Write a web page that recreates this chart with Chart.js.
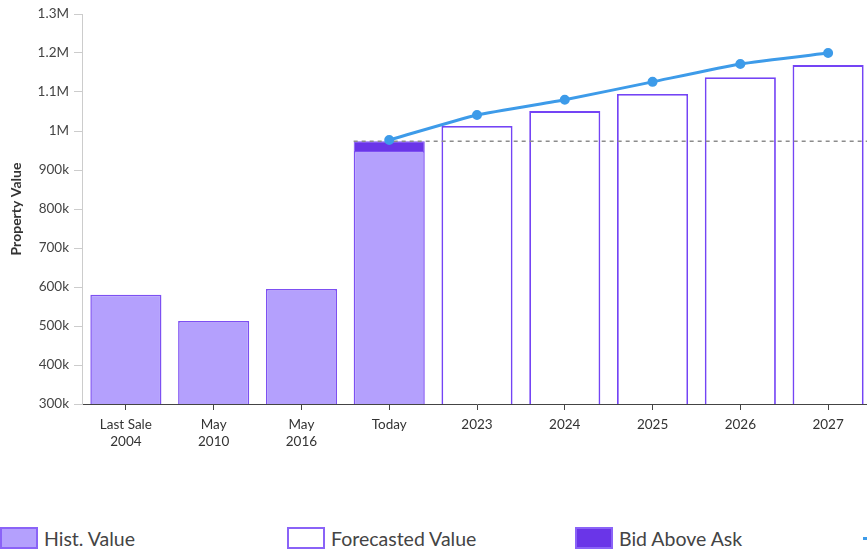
<!DOCTYPE html>
<html lang="en">
<head>
    <meta charset="UTF-8">
    <title>Property Value Forecast</title>
    <style>
        body {
            margin: 0;
            padding: 0;
            background: #fff;
            overflow: hidden;
            font-family: Lato, "Open Sans", sans-serif;
        }
        #valueChart {
            position: absolute;
            left: 0;
            top: 0;
        }
        .legend {
            position: absolute;
            top: 527px;
            left: 0;
            width: 1200px;
            height: 24px;
        }
        .legend-item {
            position: absolute;
            top: 0;
            display: flex;
            align-items: center;
            height: 22px;
            font-size: 19.5px;
            color: #444;
            white-space: nowrap;
        }
        .swatch {
            width: 38px;
            height: 22px;
            margin-right: 6px;
            box-sizing: border-box;
        }
    </style>
</head>
<body>
    <canvas id="valueChart" width="879" height="460"></canvas>
    <div class="legend">
        <div class="legend-item" style="left:0px"><span class="swatch" style="background:#b4a0fd;border:2px solid #8a63f7"></span>Hist. Value</div>
        <div class="legend-item" style="left:287px"><span class="swatch" style="background:#fff;border:2px solid #8a63f7"></span>Forecasted Value</div>
        <div class="legend-item" style="left:575px"><span class="swatch" style="background:#6a35e8;border:2px solid #8a63f7"></span>Bid Above Ask</div>
        <div class="legend-item" style="left:863px"><span class="swatch" style="height:3px;background:#3d9be9"></span>Forecast Trend</div>
    </div>

    <script src="https://cdn.jsdelivr.net/npm/chart.js"></script>
    <script>
        const categories = [['Last Sale', '2004'], ['May', '2010'], ['May', '2016'], 'Today', '2023', '2024', '2025', '2026', '2027'];
        const histValues = [580000, 513000, 595000, 949000, null, null, null, null, null];
        const bidAboveAsk = [null, null, null, 25000, null, null, null, null, null];
        const forecastValues = [null, null, null, null, 1013000, 1051000, 1095000, 1138000, 1169000];
        const trendValues = [null, null, null, 977000, 1041000, 1080000, 1126000, 1172000, 1200000];
        const salePrice = 974000;
        const yTickValues = [300000, 400000, 500000, 600000, 700000, 800000, 900000, 1000000, 1100000, 1200000, 1300000];
        const yTickLabels = ['300k', '400k', '500k', '600k', '700k', '800k', '900k', '1M', '1.1M', '1.2M', '1.3M'];

        Chart.defaults.font.family = 'Lato, "Open Sans", sans-serif';
        Chart.defaults.font.size = 13.5;
        Chart.defaults.color = '#444';

        // dashed reference line at the sale price, from the Today bar to the right edge
        const salePriceLine = {
            id: 'salePriceLine',
            beforeDatasetDraw(chart, args) {
                if (args.meta.type !== 'line') return;
                const bar = chart.getDatasetMeta(0).data[3];
                const y = chart.scales.y.getPixelForValue(salePrice);
                const ctx = chart.ctx;
                ctx.save();
                ctx.strokeStyle = '#8c8c8c';
                ctx.lineWidth = 1.5;
                ctx.setLineDash([4, 4]);
                ctx.beginPath();
                ctx.moveTo(bar.x - bar.width / 2, y);
                ctx.lineTo(chart.chartArea.right, y);
                ctx.stroke();
                ctx.restore();
            }
        };

        const ctx = document.getElementById('valueChart').getContext('2d');
        new Chart(ctx, {
            type: 'bar',
            data: {
                labels: categories,
                datasets: [{
                    label: 'Hist. Value',
                    data: histValues,
                    backgroundColor: '#b4a0fd',
                    borderColor: '#7d50f2',
                    borderWidth: 1.5,
                    order: 1
                }, {
                    label: 'Bid Above Ask',
                    data: bidAboveAsk,
                    backgroundColor: '#6a35e8',
                    borderColor: '#7d50f2',
                    borderWidth: 1,
                    order: 1
                }, {
                    label: 'Forecasted Value',
                    data: forecastValues,
                    backgroundColor: '#ffffff',
                    borderColor: '#7444f5',
                    borderWidth: 1.8,
                    order: 1
                }, {
                    type: 'line',
                    label: 'Forecast Trend',
                    data: trendValues,
                    borderColor: '#3d9be9',
                    backgroundColor: '#3d9be9',
                    borderWidth: 3,
                    pointRadius: 3.5,
                    tension: 0.15,
                    order: 0
                }]
            },
            options: {
                responsive: false,
                animation: false,
                layout: { padding: { top: 14, right: 0, left: 0, bottom: 0 } },
                datasets: {
                    bar: { barPercentage: 1, categoryPercentage: 0.81 }
                },
                plugins: {
                    legend: { display: false },
                    tooltip: { enabled: false }
                },
                scales: {
                    x: {
                        stacked: true,
                        grid: { display: true, offset: false, drawOnChartArea: false, color: '#444', tickLength: 6 },
                        border: { color: '#444', width: 1 },
                        ticks: { color: '#333', padding: 7, maxRotation: 0 },
                        afterFit(scale) { scale.height = 56; }
                    },
                    y: {
                        stacked: true,
                        min: 300000,
                        max: 1300000,
                        afterBuildTicks(scale) {
                            scale.ticks = yTickValues.map(v => ({ value: v }));
                        },
                        grid: { drawOnChartArea: false, color: '#ccc', tickLength: 8 },
                        border: { color: '#ccc', width: 1 },
                        ticks: {
                            color: '#444',
                            padding: 5,
                            callback: (v) => yTickLabels[yTickValues.indexOf(v)]
                        },
                        title: {
                            display: true,
                            text: 'Property Value',
                            color: '#333',
                            font: { size: 14, weight: 'bold' },
                            padding: { top: 8, bottom: 2 }
                        },
                        afterFit(scale) { scale.width = 82; }
                    }
                }
            },
            plugins: [salePriceLine]
        });
    </script>
</body>
</html>
